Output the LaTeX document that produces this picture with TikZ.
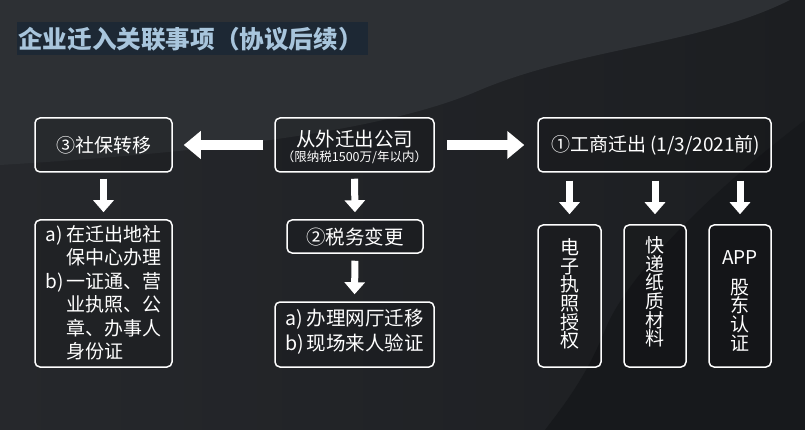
\documentclass[tikz,border=0pt]{standalone}
\usepackage{fontspec}
\setmainfont{Noto Sans CJK SC}
\usetikzlibrary{arrows.meta}
\definecolor{bglight}{HTML}{2D3034}
\definecolor{bgmid}{HTML}{26282C}
\definecolor{bgdark}{HTML}{17191C}
\definecolor{bgright}{HTML}{1C1E21}
\definecolor{titleband}{HTML}{1D2834}
\definecolor{titletext}{HTML}{A8C5DC}
\tikzset{
  box/.style={draw=white, line width=1.5pt, rounded corners=5pt, fill=black, fill opacity=0.12, text opacity=1, inner sep=0pt},
  txt/.style={text=white, inner sep=0pt, align=center},
  downarrow/.style={draw=white, line width=7pt, -{Triangle[length=12pt,width=20pt]}},
  sidearrow/.style={draw=white, line width=10pt, -{Triangle[length=17pt,width=27pt]}},
}
\begin{document}
\begin{tikzpicture}[x=1pt,y=-1pt]
\useasboundingbox (0,0) rectangle (805,430);
% background
\shade[left color=bgmid, right color=bgright] (0,0) rectangle (805,430);
\fill[bglight] (0,0) -- (790,0) .. controls (700,45) and (580,48) .. (480,90) .. controls (400,125) and (250,150) .. (0,165) -- cycle;
\fill[bgdark] (805,120) .. controls (700,200) and (625,280) .. (605,330) .. controls (585,380) and (560,410) .. (545,430) -- (805,430) -- cycle;
% title
\fill[titleband] (17,22) rectangle (368,55);
\node[anchor=west, inner sep=0pt, text=titletext, font=\fontsize{24.6}{27}\selectfont\bfseries] (title) at (18,39.5) {企业迁入关联事项（协议后续）};
% top row boxes
\node[box, minimum width=137pt, minimum height=54pt] (sb) at (103.5,145) {};
\node[txt, font=\fontsize{19}{22}\selectfont] (sbt) at (103.5,145) {③社保转移};
\node[box, minimum width=159pt, minimum height=54pt] (src) at (354.5,145) {};
\node[txt, font=\fontsize{19.5}{22}\selectfont] (srct) at (354.5,139) {从外迁出公司};
\node[txt, font=\fontsize{12.5}{14}\selectfont] (srcs) at (354.5,157) {（限纳税1500万/年以内）};
\node[box, minimum width=233pt, minimum height=54pt] (gs) at (654.5,145) {};
\node[txt, font=\fontsize{19}{22}\selectfont] (gst) at (656,145) {①工商迁出\,(1/3/2021前)};
% left column
\node[box, minimum width=137pt, minimum height=147pt] (sbd) at (103.5,293.5) {};
\node[txt, font=\fontsize{19}{23.5}\selectfont] (sbdt) at (103.5,295.5) {%
\begin{tabular}{@{}l@{\,}l@{}}
a) & 在迁出地社\\
   & 保中心办理\\
b) & 一证通、营\\
   & 业执照、公\\
   & 章、办事人\\
   & 身份证
\end{tabular}};
% middle column
\node[box, minimum width=136pt, minimum height=33pt] (sw) at (355,236.5) {};
\node[txt, font=\fontsize{19.5}{22}\selectfont] (swt) at (355,237) {②税务变更};
\node[box, minimum width=159pt, minimum height=65pt] (swd) at (354.5,334.5) {};
\node[txt, font=\fontsize{19.5}{25}\selectfont] (swdt) at (354.5,332.5) {%
\begin{tabular}{@{}l@{\,}l@{}}
a) & 办理网厅迁移\\
b) & 现场来人验证
\end{tabular}};
% right column
\node[box, minimum width=63pt, minimum height=142pt] (v1) at (569.5,296) {};
\node[txt, font=\fontsize{19}{18.6}\selectfont] (v1t) at (569.5,294) {电\\子\\执\\照\\授\\权};
\node[box, minimum width=62pt, minimum height=142pt] (v2) at (655,296) {};
\node[txt, font=\fontsize{19}{18.6}\selectfont] (v2t) at (655,292) {快\\递\\纸\\质\\材\\料};
\node[box, minimum width=62pt, minimum height=142pt] (v3) at (740,296) {};
\node[txt, font=\fontsize{19}{22}\selectfont] (v3a) at (740,258) {APP};
\node[txt, font=\fontsize{19}{18.6}\selectfont] (v3t) at (740,315) {股\\东\\认\\证};
% arrows
\draw[sidearrow, shorten <=11pt, shorten >=11pt] (src.west) -- (sb.east);
\draw[sidearrow, shorten <=12pt, shorten >=13pt] (src.east) -- (gs.west);
\draw[downarrow, shorten <=6pt, shorten >=7pt] (sb.south) -- (sbd.north);
\draw[downarrow, shorten <=6pt, shorten >=7pt] (src.south) -- (sw.north);
\draw[downarrow, shorten <=7pt, shorten >=7pt] (sw.south) -- (swd.north);
\draw[downarrow, shorten <=8pt, shorten >=10pt] (v1.north |- gs.south) -- (v1.north);
\draw[downarrow, shorten <=8pt, shorten >=10pt] (v2.north |- gs.south) -- (v2.north);
\draw[downarrow, shorten <=8pt, shorten >=10pt] (v3.north |- gs.south) -- (v3.north);
\end{tikzpicture}
\end{document}
